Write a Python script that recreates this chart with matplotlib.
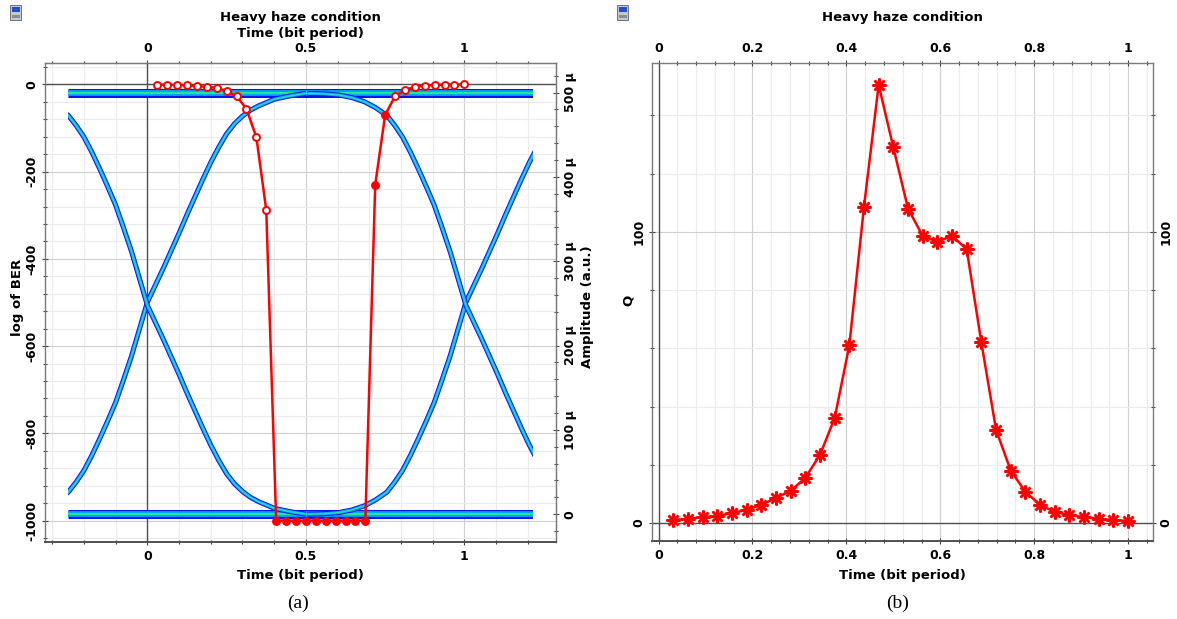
import numpy as np
import matplotlib
matplotlib.use("Agg")
import matplotlib.pyplot as plt
from matplotlib.ticker import FixedLocator, FuncFormatter
from matplotlib.transforms import Affine2D
from matplotlib.patches import Rectangle

# sampling instants of the BER / Q analysis (bit period)
t_samples = [0.03125, 0.0625, 0.09375, 0.125, 0.15625, 0.1875, 0.21875, 0.25,
             0.28125, 0.3125, 0.34375, 0.375, 0.40625, 0.4375, 0.46875, 0.5,
             0.53125, 0.5625, 0.59375, 0.625, 0.65625, 0.6875, 0.71875, 0.75,
             0.78125, 0.8125, 0.84375, 0.875, 0.90625, 0.9375, 0.96875, 1.0]

# (a) log of BER at each sampling instant
log_ber = [-0.3, -1, -1.5, -2, -4, -5.5, -8, -15, -27, -56, -121, -288,
           -1000, -1000, -1000, -1000, -1000, -1000, -1000, -1000, -1000, -1000,
           -230, -70, -27, -13, -5.5, -3.2, -1.2, -0.8, -0.4, -0.2]

# (b) Q factor at each sampling instant
q_factor = [1.0, 1.4, 2.0, 2.4, 3.4, 4.5, 6.2, 8.6, 11, 15.5, 23.4, 36, 61,
            108.6, 150.5, 129, 108, 98.6, 96.6, 98.6, 94, 62, 32, 18, 10.7,
            6.2, 3.8, 2.7, 2.0, 1.4, 1.0, 0.7]

# eye diagram: edge shape (offset from crossing, amplitude in micro a.u.)
edge_dt = [-0.50, -0.45, -0.40, -0.36, -0.32, -0.285, -0.25, -0.225, -0.20, -0.175,
           -0.15, -0.125, -0.10, -0.075, -0.05, -0.025, 0.0, 0.025, 0.05, 0.075,
           0.10, 0.125, 0.15, 0.175, 0.20, 0.225, 0.25, 0.275, 0.30, 0.325,
           0.35, 0.375, 0.40, 0.45, 0.50]
edge_rise = [0, 0.5, 2, 5, 10, 17, 26, 38, 52, 70,
             90, 111, 133, 160, 188, 220, 252, 272, 292, 313,
             334, 356, 377, 398, 418, 436, 452, 464, 473, 480,
             485, 489, 493, 497, 500]
eye_cross = [0.0, 1.005]
eye_window = [-0.25, 1.215]
rail_low = 0
rail_high = 499

# tick positions
a_xticks = [0, 0.5, 1]
a_xminor = [-0.3, -0.2, -0.1, 0.1, 0.2, 0.3, 0.4, 0.6, 0.7, 0.8, 0.9, 1.1, 1.2]
a_yticks = [-1000, -800, -600, -400, -200, 0]
a_yminor = [-1040, -960, -920, -880, -840, -760, -720, -680, -640, -560, -520, -480,
            -440, -360, -320, -280, -240, -160, -120, -80, -40, 40]
amp_ticks = [0, 100, 200, 300, 400, 500]
amp_minor = [-20, 20, 40, 60, 80, 120, 140, 160, 180, 220, 240, 260, 280, 320, 340,
             360, 380, 420, 440, 460, 480, 520]
b_xticks = [0, 0.2, 0.4, 0.6, 0.8, 1]
b_xminor = [0.04, 0.08, 0.12, 0.16, 0.24, 0.28, 0.32, 0.36, 0.44, 0.48, 0.52, 0.56,
            0.64, 0.68, 0.72, 0.76, 0.84, 0.88, 0.92, 0.96, 1.04]
b_yticks = [0, 100]
b_yminor = [20, 40, 60, 80, 120, 140]

plt.rcParams['font.family'] = ['DejaVu Sans']
plt.rcParams['font.weight'] = 'bold'
plt.rcParams['font.size'] = 9
plt.rcParams['axes.unicode_minus'] = False

W, H = 1177, 619
fig = plt.figure(figsize=(W / 100, H / 100), dpi=100)

SPINE = '#7a7a7a'
ZERO = '#505050'


def fy(py):
    return 1 - py / H


def tick_style(obj):
    obj.tick_params(which='both', direction='inout', color='#404040', width=0.8)
    obj.tick_params(which='major', length=5)
    obj.tick_params(which='minor', length=3)


def style_axes(ax):
    for s in ax.spines.values():
        s.set_color(SPINE)
        s.set_linewidth(1.0)
    ax.spines['bottom'].set_color('#505050')
    ax.spines['bottom'].set_linewidth(1.4)
    tick_style(ax)
    ax.grid(which='minor', color='#ebebeb', lw=0.8)
    ax.grid(which='major', color='#cfcfcf', lw=0.8)
    ax.set_axisbelow(True)


def rot_labels(axis_obj):
    for tk in axis_obj.get_major_ticks():
        for lab in (tk.label1, tk.label2):
            lab.set_rotation(90)
            lab.set_va('center')


def icon(x, y):
    fig.patches.append(Rectangle((x / W, fy(y + 15)), 11 / W, 15 / H, transform=fig.transFigure,
                                 facecolor='#c8c8c8', edgecolor='#606060', lw=0.6))
    fig.patches.append(Rectangle(((x + 1.5) / W, fy(y + 7)), 8 / W, 5 / H, transform=fig.transFigure,
                                 facecolor='#2050d0', edgecolor='none'))
    fig.patches.append(Rectangle(((x + 1.5) / W, fy(y + 13)), 8 / W, 3 / H, transform=fig.transFigure,
                                 facecolor='#8090a0', edgecolor='none'))


fmt = FuncFormatter(lambda v, p: '%g' % v)

# ---------------- (a) eye diagram + BER ----------------
ax = fig.add_axes([45 / W, 1 - 542 / H, (556 - 45) / W, (542 - 63) / H])
style_axes(ax)
ber_lim = (-1049, 49)
amp_lim = (-33, 535)
ax.set_xlim(-0.323, 1.289)
ax.set_ylim(*ber_lim)
ax.xaxis.set_major_locator(FixedLocator(a_xticks))
ax.xaxis.set_minor_locator(FixedLocator(a_xminor))
ax.yaxis.set_major_locator(FixedLocator(a_yticks))
ax.yaxis.set_minor_locator(FixedLocator(a_yminor))
ax.xaxis.set_major_formatter(fmt)
ax.yaxis.set_major_formatter(fmt)
ax.tick_params(axis='y', pad=2)
ax.tick_params(axis='x', pad=3)
ax.axhline(0, color=ZERO, lw=1.0, zorder=1.5)
ax.axvline(0, color=ZERO, lw=1.0, zorder=1.5)

# amplitude -> BER axis mapping
k = (ber_lim[1] - ber_lim[0]) / (amp_lim[1] - amp_lim[0])
b = ber_lim[0] - amp_lim[0] * k
eye_tr = Affine2D().scale(1, k).translate(0, b) + ax.transData
clip = Rectangle((eye_window[0], amp_lim[0]), eye_window[1] - eye_window[0],
                 amp_lim[1] - amp_lim[0], transform=eye_tr)


def eye_trace(t, a, widths, colors):
    for lw, c in zip(widths, colors):
        ln, = ax.plot(t, a, color=c, lw=lw, transform=eye_tr, zorder=2,
                      solid_capstyle='butt', solid_joinstyle='round')
        ln.set_clip_path(clip)


rail_w = [6.5, 4.2, 1.6]
rail_c = ['#0a14f0', '#00a0ff', '#20e890']
edge_w = [3.6, 2.2, 0.8]
edge_c = ['#0a14f0', '#10a8f8', '#30e0b0']
for lvl in [rail_low, rail_high]:
    eye_trace(eye_window, [lvl, lvl], rail_w, rail_c)
rise = np.array(edge_rise)
for c in eye_cross:
    tt = np.array(edge_dt) + c
    eye_trace(tt, rail_low + rise * (rail_high - rail_low) / 500, edge_w, edge_c)
    eye_trace(tt, rail_high - rise * (rail_high - rail_low) / 500, edge_w, edge_c)

# BER curve
ax.plot(t_samples, log_ber, color='#ff0000', lw=1.8, zorder=3)
filled = [13 <= i + 1 <= 24 for i in range(len(t_samples))]
t_arr = np.array(t_samples)
b_arr = np.array(log_ber)
f_arr = np.array(filled)
ax.plot(t_arr[~f_arr], b_arr[~f_arr], 'o', ms=5, mfc='white', mec='#ff0000', mew=1.4, zorder=4)
ax.plot(t_arr[f_arr], b_arr[f_arr], 'o', ms=5, mfc='#ff0000', mec='#ff0000', mew=1.4, zorder=4)

sec_y = ax.secondary_yaxis('right', functions=(lambda v: (v - b) / k, lambda v: v * k + b))
sec_y.yaxis.set_major_locator(FixedLocator(amp_ticks))
sec_y.yaxis.set_minor_locator(FixedLocator(amp_minor))
sec_y.yaxis.set_major_formatter(FuncFormatter(lambda v, p: '0' if abs(v) < 1e-6 else '%g µ' % v))
tick_style(sec_y)
sec_y.tick_params(pad=3)
sec_y.spines['right'].set_color(SPINE)

sec_x = ax.secondary_xaxis('top')
sec_x.xaxis.set_major_locator(FixedLocator(a_xticks))
sec_x.xaxis.set_minor_locator(FixedLocator(a_xminor))
sec_x.xaxis.set_major_formatter(fmt)
tick_style(sec_x)
sec_x.tick_params(pad=3)
sec_x.spines['top'].set_color(SPINE)

fig.canvas.draw()
rot_labels(ax.yaxis)
rot_labels(sec_y.yaxis)

fig.text(300 / W, fy(18), 'Heavy haze condition', ha='center', va='center', size=9.5)
fig.text(300 / W, fy(34), 'Time (bit period)', ha='center', va='center', size=9.5)
fig.text(300 / W, fy(575), 'Time (bit period)', ha='center', va='center', size=9.5)
fig.text(18 / W, fy(297), 'log of BER', ha='center', va='center', rotation=90, size=9.5)
fig.text(588 / W, fy(307), 'Amplitude (a.u.)', ha='center', va='center', rotation=90, size=9.5)
fig.text(298 / W, fy(603), '(a)', ha='center', va='center', family='Liberation Serif',
         weight='normal', size=14)

# ---------------- (b) Q factor ----------------
bx = fig.add_axes([652 / W, 1 - 541 / H, (1153 - 652) / W, (541 - 63) / H])
style_axes(bx)
bx.set_xlim(-0.014, 1.053)
bx.set_ylim(-6.2, 158)
bx.xaxis.set_major_locator(FixedLocator(b_xticks))
bx.xaxis.set_minor_locator(FixedLocator(b_xminor))
bx.yaxis.set_major_locator(FixedLocator(b_yticks))
bx.yaxis.set_minor_locator(FixedLocator(b_yminor))
bx.xaxis.set_major_formatter(fmt)
bx.yaxis.set_major_formatter(fmt)
bx.tick_params(which='both', top=True, right=True, labeltop=True, labelright=True)
bx.tick_params(axis='y', pad=2)
bx.tick_params(axis='x', pad=3)
bx.axhline(0, color=ZERO, lw=1.0, zorder=1.5)
bx.axvline(0, color=ZERO, lw=1.0, zorder=1.5)
bx.plot(t_samples, q_factor, color='#ff0000', lw=1.8, marker=(8, 2, 0), ms=10, mew=1.8,
        mec='#ff0000', zorder=3)
fig.canvas.draw()
rot_labels(bx.yaxis)

fig.text(902 / W, fy(18), 'Heavy haze condition', ha='center', va='center', size=9.5)
fig.text(902 / W, fy(575), 'Time (bit period)', ha='center', va='center', size=9.5)
fig.text(628 / W, fy(300), 'Q', ha='center', va='center', rotation=90, size=9.5)
fig.text(898 / W, fy(603), '(b)', ha='center', va='center', family='Liberation Serif',
         weight='normal', size=14)

icon(10, 5)
icon(617, 5)

fig.savefig('out.png', dpi=100)
